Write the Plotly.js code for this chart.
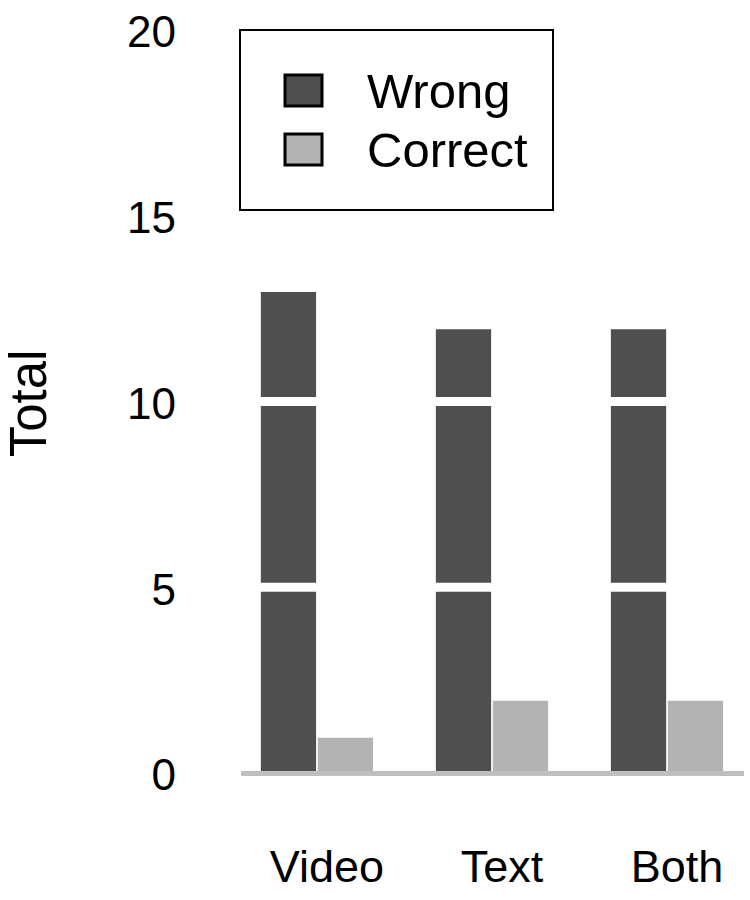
<!DOCTYPE html>
<html>
<head>
<meta charset="utf-8">
<script src="https://cdn.plot.ly/plotly-3.0.1.min.js"></script>
<style>html,body{margin:0;padding:0;background:#fff;}</style>
</head>
<body>
<div id="chart" style="width:750px;height:900px;"></div>
<script>
const categories = ["Video", "Text", "Both"];
const seriesNames = ["Wrong", "Correct"];
const wrongValues = [13, 12, 12];
const correctValues = [1, 2, 2];
const yTickVals = [0, 5, 10, 15, 20];
const gridVals = [5, 10, 15];
const colors = ["#4f4f4f", "#b3b3b3"];

const W = 750, H = 900;
const M = {l: 241, r: 6, t: 32, b: 125};
const pw = W - M.l - M.r, ph = H - M.t - M.b;
const px = v => (v - M.l) / pw;
const py = v => (H - M.b - v) / ph;
const FONT = "Arial, 'Liberation Sans', sans-serif";

const traces = [
  {type: "bar", name: seriesNames[0], x: categories, y: wrongValues,
   marker: {color: colors[0], line: {width: 0}}, hoverinfo: "skip", showlegend: false},
  {type: "bar", name: seriesNames[1], x: categories, y: correctValues,
   marker: {color: colors[1], line: {width: 0}}, hoverinfo: "skip", showlegend: false},
  {type: "scatter", mode: "none", x: categories, y: wrongValues, xaxis: "x2",
   hoverinfo: "skip", showlegend: false}
];

const shift = 10 / 175;
const xr = [-0.434, 2.44];

const shapes = gridVals.map(v => ({
  type: "line", xref: "paper", yref: "y", ysizemode: "pixel", yanchor: v,
  x0: 0, x1: 1, y0: 2, y1: 2,
  line: {color: "#ffffff", width: 9}, layer: "above"
}));
// legend box
shapes.push({type: "rect", xref: "paper", yref: "paper",
  x0: px(240), x1: px(553), y0: py(210), y1: py(30),
  line: {color: "#000", width: 2}, fillcolor: "rgba(0,0,0,0)", layer: "above"});
const annotations = [];
seriesNames.forEach((n, i) => {
  const top = 75 + i * 59;
  shapes.push({type: "rect", xref: "paper", yref: "paper",
    x0: px(285), x1: px(322), y0: py(top + 31), y1: py(top),
    line: {color: "#000", width: 3}, fillcolor: colors[i], layer: "above"});
  annotations.push({xref: "paper", yref: "paper", x: px(365), y: py(top + 16),
    xanchor: "left", yanchor: "middle", showarrow: false, text: n,
    font: {family: FONT, size: 49, color: "#000"}});
});

const layout = {
  width: W, height: H,
  margin: M,
  paper_bgcolor: "#fff", plot_bgcolor: "#fff",
  barmode: "group", bargap: 0.349, bargroupgap: 0.03,
  showlegend: false,
  font: {family: FONT, color: "#000"},
  xaxis: {type: "category", range: xr, showline: true, linecolor: "#bfbfbf", linewidth: 5,
    anchor: "free", position: 2.5 / 743,
    showticklabels: false, ticks: "", showgrid: false, zeroline: false, fixedrange: true},
  xaxis2: {type: "category", overlaying: "x", anchor: "y", side: "bottom",
    range: [xr[0] - shift, xr[1] - shift], showline: false, showgrid: false, zeroline: false,
    ticks: "", ticklabelstandoff: 61, tickfont: {family: FONT, size: 45, color: "#000"}},
  yaxis: {range: [0, 20], tickmode: "array", tickvals: yTickVals, showgrid: false,
    zeroline: false, showline: false, ticks: "", ticklabelstandoff: 64,
    tickfont: {family: FONT, size: 44, color: "#000"},
    title: {text: "Total", font: {family: FONT, size: 51, color: "#000"}, standoff: 70}},
  shapes: shapes,
  annotations: annotations
};

Plotly.newPlot("chart", traces, layout, {staticPlot: true, displayModeBar: false});
</script>
</body>
</html>
